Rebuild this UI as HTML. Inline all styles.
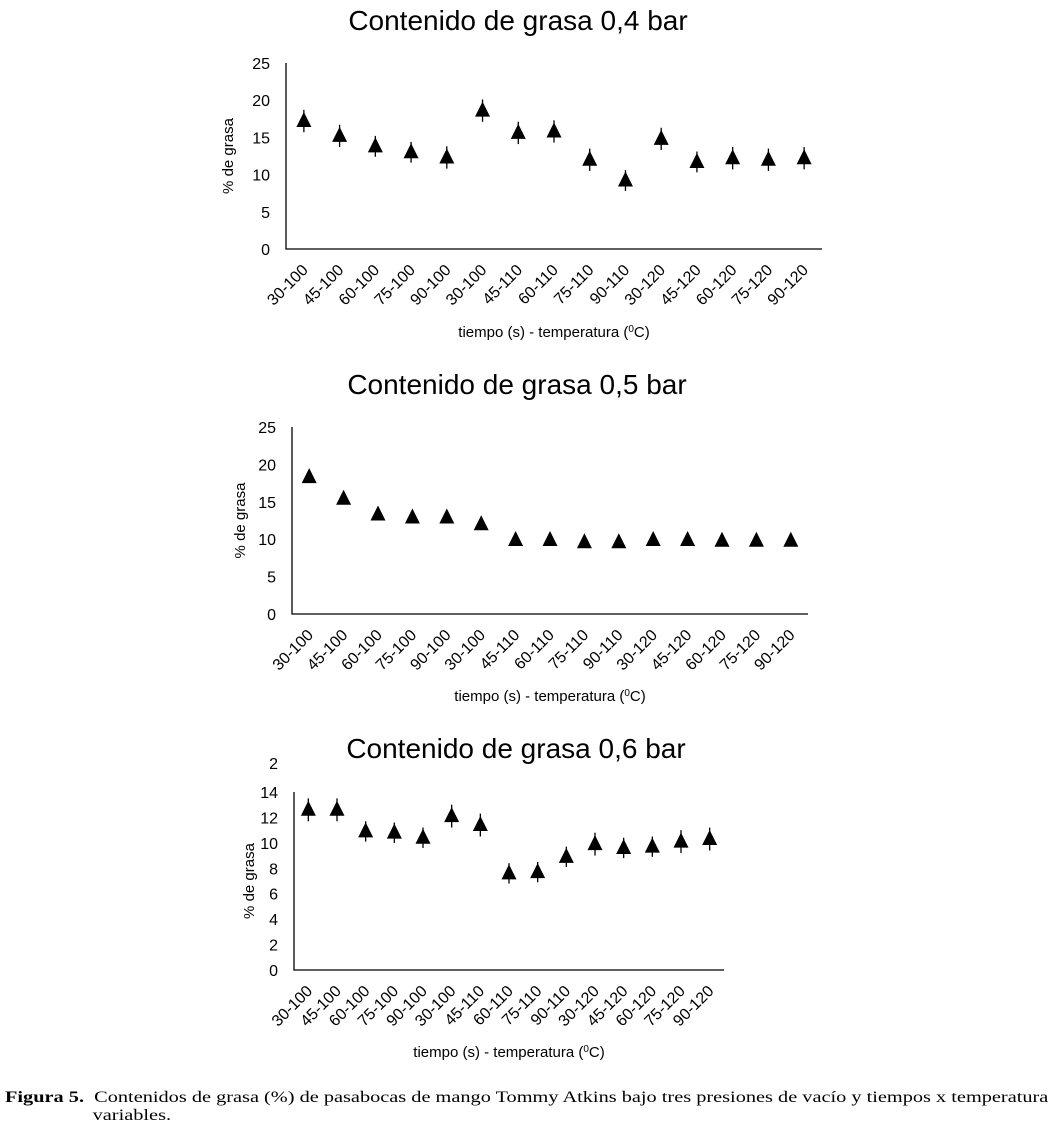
<!DOCTYPE html>
<html><head><meta charset="utf-8"><style>
body{margin:0;background:#fff;width:1057px;height:1132px;overflow:hidden;font-family:"Liberation Sans",sans-serif}
svg{position:absolute;left:0;top:0}
.cap{position:absolute;left:5px;top:1089px;font-family:"Liberation Serif",serif;font-size:16px;line-height:18px;width:900px;transform:scaleX(1.27);transform-origin:0 0;white-space:nowrap}
</style></head><body>
<svg id="s" width="1057" height="1132"></svg>
<div class="cap"><b>Figura 5.</b>&nbsp; Contenidos de grasa (%) de pasabocas de mango Tommy Atkins bajo tres presiones de vacío y tiempos x temperatura<br><span style="padding-left:69px">variables.</span></div>
<script>
const categories=["30-100","45-100","60-100","75-100","90-100","30-100","45-110","60-110","75-110","90-110","30-120","45-120","60-120","75-120","90-120"];
const values04=[17.2,15.2,13.8,13.0,12.3,18.6,15.6,15.8,12.0,9.2,14.8,11.7,12.2,12.0,12.2];
const err04=[1.5,1.5,1.4,1.4,1.5,1.5,1.5,1.5,1.5,1.4,1.5,1.4,1.5,1.5,1.5];
const values05=[18.3,15.4,13.3,12.9,12.9,12.0,9.9,9.9,9.6,9.6,9.9,9.9,9.8,9.8,9.8];
const err05=[0,0,0,0,0,0,0,0,0,0,0,0,0,0,0];
const values06=[12.6,12.6,10.9,10.8,10.4,12.1,11.4,7.6,7.7,8.9,9.9,9.6,9.7,10.1,10.3];
const err06=[0.9,0.9,0.8,0.8,0.8,0.9,0.9,0.8,0.8,0.8,0.9,0.8,0.8,0.9,0.9];
const ticks04=[0,5,10,15,20,25];
const ticks05=[0,5,10,15,20,25];
const ticks06=[0,2,4,6,8,10,12,14];
const NS="http://www.w3.org/2000/svg";
const svg=document.getElementById('s');
function mk(t,a,txt){const e=document.createElementNS(NS,t);for(const k in a)e.setAttribute(k,a[k]);if(txt!=null)e.textContent=txt;svg.appendChild(e);return e;}
function chart(c){
  const yS=v=>c.y0-(v/c.ymax)*(c.y0-c.ytop);
  const bw=(c.x1-c.x0)/categories.length;
  const xS=i=>c.x0+bw*(i+0.5);
  let t=mk('text',{x:c.tx,y:c.ty,'font-size':28,'text-anchor':'middle'},c.title);
  
  
  let ax=mk('path',{d:`M${c.x0},${c.ytop} V${c.y0} H${c.x1}`,stroke:'#000','stroke-width':1.3,fill:'none'});
  
  
  c.ticks.forEach(v=>{let e=mk('text',{x:c.x0-16,y:yS(v)+6,'font-size':16,'text-anchor':'end'},String(v));
    
    });
  if(c.extra){let e=mk('text',{x:c.x0-16,y:c.extra.y,'font-size':16,'text-anchor':'end'},c.extra.t);
    
    }
  let yl=mk('text',{x:0,y:0,'font-size':15,'text-anchor':'middle',transform:`translate(${c.ylx},${(c.y0+c.ytop)/2}) rotate(-90)`},'% de grasa');
  
  
  categories.forEach((cat,i)=>{const x=xS(i)+5,y=c.y0+22;
    let e=mk('text',{x:0,y:0,'font-size':16,'text-anchor':'end',transform:`translate(${x},${y}) rotate(-45)`},cat);
    
    });
  let xl=mk('text',{x:(c.x0+c.x1)/2,y:c.xly,'font-size':15,'text-anchor':'middle'},'tiempo (s) - temperatura (');
  const ts=document.createElementNS(NS,'tspan');ts.setAttribute('dy',-5);ts.setAttribute('font-size',10);ts.textContent='0';xl.appendChild(ts);
  const ts2=document.createElementNS(NS,'tspan');ts2.setAttribute('dy',5);ts2.textContent='C)';xl.appendChild(ts2);
  
  
  c.vals.forEach((v,i)=>{const x=xS(i),y=yS(v);
    if(c.err[i]>0){let eb=mk('line',{x1:x,x2:x,y1:yS(v+c.err[i]),y2:yS(v-c.err[i]),stroke:'#000','stroke-width':1.3});
      
      }
    let p=mk('path',{d:`M${x},${y-9} L${x+7.5},${y+6} L${x-7.5},${y+6} Z`,fill:'#000'});
    
    });
}
chart({title:'Contenido de grasa 0,4 bar',tx:518,ty:30,x0:286,x1:822,y0:249,ytop:63,ymax:25,ticks:ticks04,vals:values04,err:err04,ylx:233,xly:337});
chart({title:'Contenido de grasa 0,5 bar',tx:517,ty:394,x0:292,x1:808,y0:614,ytop:427,ymax:25,ticks:ticks05,vals:values05,err:err05,ylx:245,xly:701});
chart({title:'Contenido de grasa 0,6 bar',tx:516,ty:758,x0:294,x1:724,y0:970,ytop:792,ymax:14,ticks:ticks06,vals:values06,err:err06,ylx:254,xly:1057,extra:{t:'2',y:769}});
</script>
</body></html>
